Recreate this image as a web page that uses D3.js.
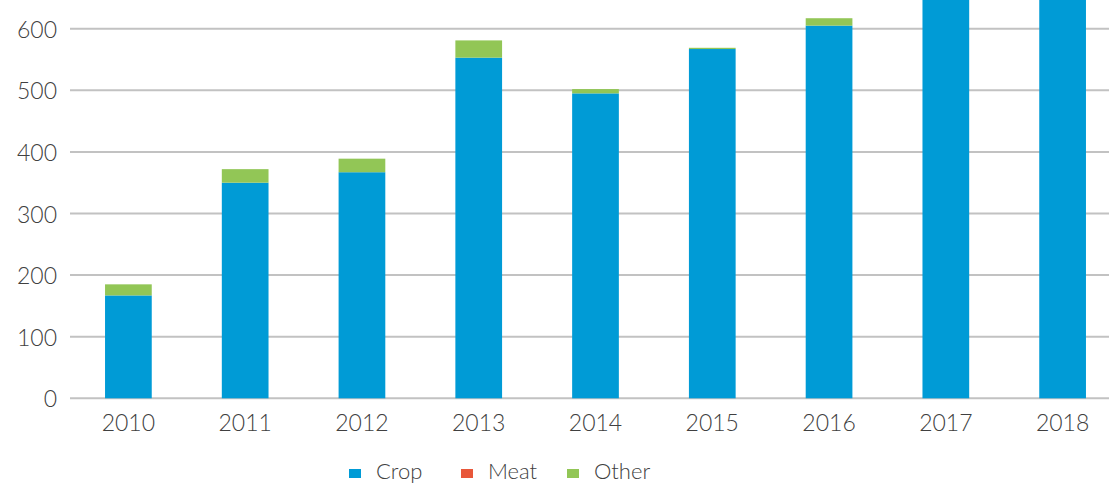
<!DOCTYPE html>
<html>
<head>
<meta charset="utf-8">
<script src="https://cdn.jsdelivr.net/npm/d3@7"></script>
<style>
  html, body { margin: 0; padding: 0; background: #fff; }
  svg { display: block; }
  text { font-family: Lato, "Open Sans", sans-serif; font-weight: 300; fill: #404040; }
</style>
</head>
<body>
<svg id="chart" width="1109" height="484"></svg>
<script>
const years = ["2010","2011","2012","2013","2014","2015","2016","2017","2018"];
const crop  = [167, 350, 367, 553, 495, 567, 605, 700, 730];
const meat  = [0, 0, 0, 0, 0, 0, 0, 0, 0];
const other = [18, 22, 22, 28, 7, 2, 12, 10, 10];
const yTicks = [0, 100, 200, 300, 400, 500, 600];
const seriesNames = ["Crop", "Meat", "Other"];
const colors = {Crop: "#009bd6", Meat: "#e8573a", Other: "#92c656"};

const svg = d3.select("#chart");
const W = 1109;

const x = d3.scaleBand().domain(years).range([70, 1121]).paddingInner(0.6).paddingOuter(0.3);
const y = d3.scaleLinear().domain([0, 600]).range([398.3, 28.7]);

const table = years.map((yr, i) => ({year: yr, Crop: crop[i], Meat: meat[i], Other: other[i]}));
const stacked = d3.stack().keys(seriesNames)(table);

// gridlines
svg.append("g").selectAll("line").data(yTicks).join("line")
  .attr("x1", 70).attr("x2", W)
  .attr("y1", d => y(d)).attr("y2", d => y(d))
  .attr("stroke", "#c2c2c2").attr("stroke-width", 2);

// y labels
svg.append("g").selectAll("text").data(yTicks).join("text")
  .attr("x", 57).attr("y", d => y(d))
  .attr("text-anchor", "end").attr("dominant-baseline", "central")
  .attr("font-size", 23).text(d => d);

// bars
svg.append("g").selectAll("g").data(stacked).join("g")
  .attr("fill", d => colors[d.key])
  .selectAll("rect").data(d => d).join("rect")
  .attr("x", d => x(d.data.year))
  .attr("width", x.bandwidth())
  .attr("y", d => y(d[1]))
  .attr("height", d => Math.max(0, y(d[0]) - y(d[1])));

// x labels
svg.append("g").selectAll("text").data(years).join("text")
  .attr("x", d => x(d) + x.bandwidth() / 2).attr("y", 431)
  .attr("text-anchor", "middle").attr("font-size", 23).text(d => d);

// legend
const legendX = [349, 461, 567];
const lg = svg.append("g").selectAll("g").data(seriesNames).join("g")
  .attr("transform", (d, i) => `translate(${legendX[i]},0)`);
lg.append("rect").attr("x", 0).attr("y", 469).attr("width", 12).attr("height", 9)
  .attr("fill", d => colors[d]);
lg.append("text").attr("x", 27).attr("y", 479).attr("font-size", 22).text(d => d);
</script>
</body>
</html>
